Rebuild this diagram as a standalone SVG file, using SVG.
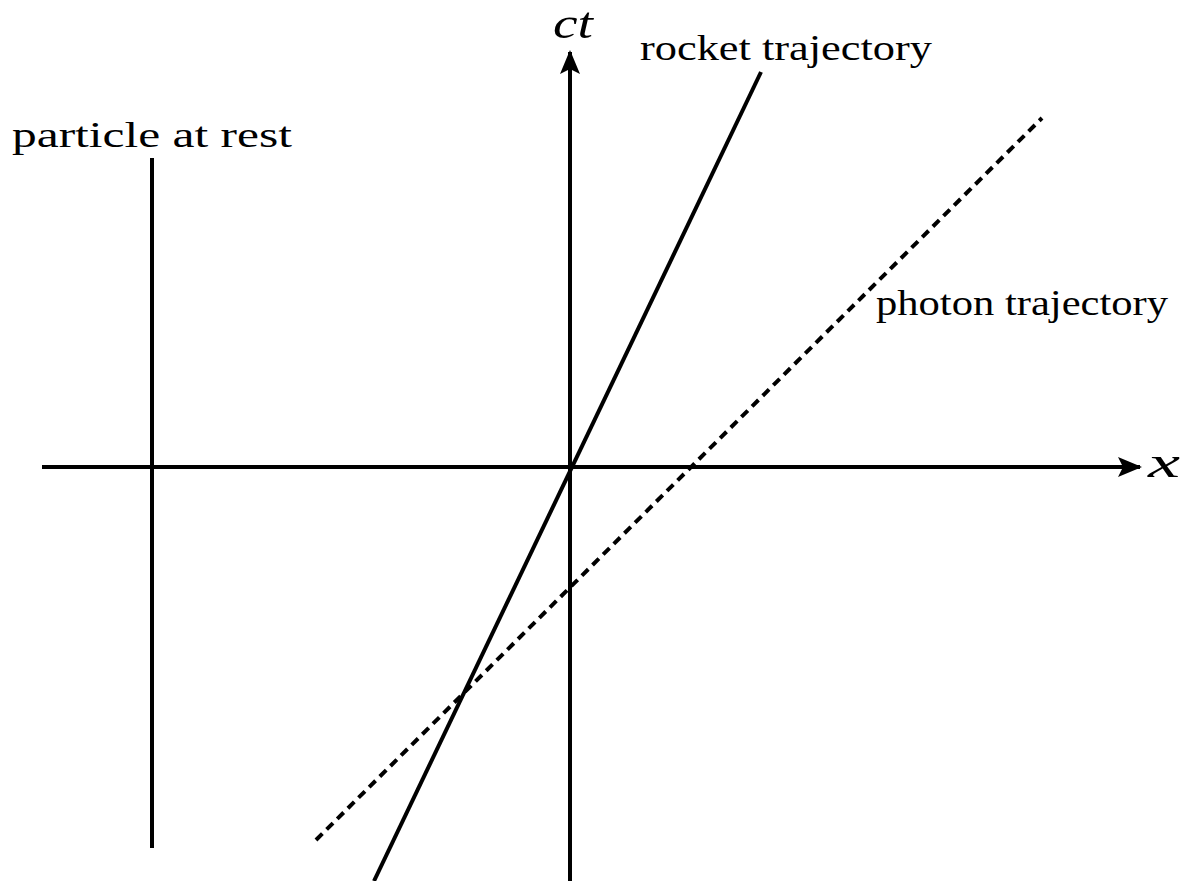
<svg xmlns="http://www.w3.org/2000/svg" width="1200" height="881" viewBox="0 0 1200 881">
<style>
.ln{stroke:#000;stroke-width:4;fill:none}
.dash{stroke-dasharray:9 6}
.lbl{font-family:'Liberation Serif','Times New Roman',serif;font-size:35px;fill:#000}
.math{font-family:'Liberation Serif','Times New Roman',serif;font-style:italic;font-size:44px;fill:#000}
</style>
<defs>
<marker id="arr" viewBox="0 0 24 20" refX="22" refY="10" markerWidth="24" markerHeight="20" markerUnits="userSpaceOnUse" orient="auto">
<path d="M0,0 L24,10 L0,20 L5,10 Z" fill="#000"/>
</marker>
</defs>
<rect width="1200" height="881" fill="#fff"/>
<g id="connectors">
<line id="x-axis" class="ln" x1="42" y1="467" x2="1140" y2="467" marker-end="url(#arr)"/>
<line id="ct-axis" class="ln" x1="570" y1="881" x2="570" y2="52" marker-end="url(#arr)"/>
<line id="rest" class="ln" x1="152" y1="158" x2="152" y2="848"/>
<line id="rocket" class="ln" x1="374" y1="881" x2="761" y2="72"/>
<line id="photon" class="ln dash" x1="316" y1="840" x2="1042" y2="118"/>
</g>
<g id="label-ct"><text class="math" x="553" y="38" textLength="40" lengthAdjust="spacingAndGlyphs">ct</text></g>
<g id="label-x"><text class="math" x="1148" y="477" textLength="32" lengthAdjust="spacingAndGlyphs">x</text></g>
<g id="label-rocket"><text class="lbl" x="640" y="60" textLength="292" lengthAdjust="spacingAndGlyphs">rocket trajectory</text></g>
<g id="label-rest"><text class="lbl" x="12" y="147" textLength="280" lengthAdjust="spacingAndGlyphs">particle at rest</text></g>
<g id="label-photon"><text class="lbl" x="876" y="315" textLength="292" lengthAdjust="spacingAndGlyphs">photon trajectory</text></g>
</svg>
